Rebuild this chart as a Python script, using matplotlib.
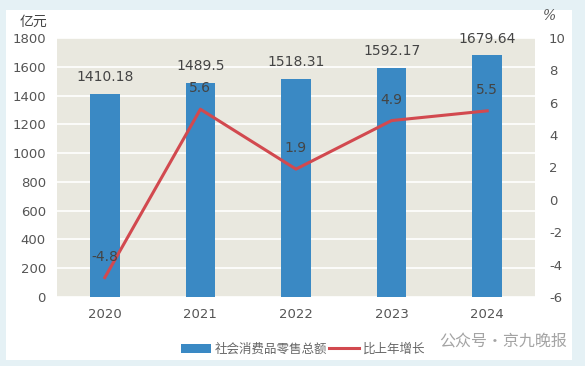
import numpy as np
import matplotlib.pyplot as plt
from matplotlib.patches import Rectangle

plt.rcParams['font.family'] = ['Noto Sans CJK SC', 'DejaVu Sans']
plt.rcParams['axes.unicode_minus'] = False

years = ['2020', '2021', '2022', '2023', '2024']
sales = [1410.18, 1489.5, 1518.31, 1592.17, 1679.64]
growth = [-4.8, 5.6, 1.9, 4.9, 5.5]
sales_labels = ['1410.18', '1489.5', '1518.31', '1592.17', '1679.64']

fig = plt.figure(figsize=(5.85, 3.66), dpi=100)
fig.patch.set_facecolor('#e5f1f5')
# white card behind the chart
fig.patches.append(Rectangle((6/585, 1-360/366), 566/585, 350/366,
                             transform=fig.transFigure, facecolor='white',
                             edgecolor='none', zorder=-10))

ax = fig.add_axes([57/585, 1-297/366, 478/585, 259/366])
ax.set_facecolor('#e9e8df')
x = np.arange(len(years))
bars = ax.bar(x, sales, width=0.31, color='#3a89c4', zorder=2,
              label='社会消费品零售总额')
ax.set_xlim(-0.5, 4.5)
ax.set_ylim(0, 1800)
ax.set_yticks(range(0, 1801, 200))
ax.yaxis.grid(True, color='white', linewidth=1.2, zorder=1)
ax.set_axisbelow(True)
for s in ax.spines.values():
    s.set_visible(False)
ax.tick_params(length=0, colors='#555555', labelsize=9.5)
ax.tick_params(axis='y', pad=8)
ax.tick_params(axis='x', pad=8)
ax.set_xticks(x)
ax.set_xticklabels(years, family='DejaVu Sans')
for lab in ax.get_yticklabels():
    lab.set_family('DejaVu Sans')
for xi, v, t in zip(x, sales, sales_labels):
    ax.annotate(t, (xi, v), xytext=(0, 7), textcoords='offset points',
                ha='center', va='bottom', fontsize=10, color='#444444',
                family='DejaVu Sans')

ax2 = ax.twinx()
ax2.set_ylim(-6, 10)
ax2.set_yticks(range(-6, 11, 2))
for s in ax2.spines.values():
    s.set_visible(False)
ax2.tick_params(length=0, colors='#555555', labelsize=9.5, pad=10)
for lab in ax2.get_yticklabels():
    lab.set_family('DejaVu Sans')
line, = ax2.plot(x, growth, color='#d2494f', linewidth=2.2, zorder=3,
                 label='比上年增长')
for xi, v in zip(x, growth):
    ax2.annotate(f'{v}', (xi, v), xytext=(0, 10), textcoords='offset points',
                 ha='center', va='bottom', fontsize=10, color='#444444',
                 family='DejaVu Sans')

fig.text(20/585, 1-22/366, '亿元', fontsize=10, color='#444444',
         ha='left', va='center')
fig.text(550/585, 1-16/366, '%', fontsize=10, color='#555555',
         ha='center', va='center', family='DejaVu Serif', style='italic')

fig.legend(handles=[bars, line], loc='center', bbox_to_anchor=(303/585, 1-349/366),
           ncol=2, frameon=False, fontsize=9, handlelength=2.4,
           handletextpad=0.3, columnspacing=0.2, labelcolor='#666666')

fig.text(567/585, 1-342/366, '公众号·京九晚报', fontsize=11.5, color='#9a9a9a',
         ha='right', va='center', alpha=0.9)

fig.savefig('out.png', dpi=100, facecolor=fig.get_facecolor())
